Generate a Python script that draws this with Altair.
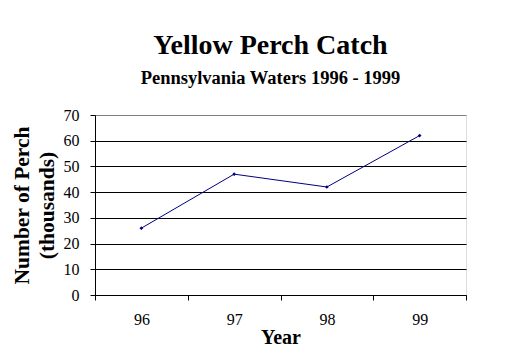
import altair as alt
import pandas as pd

years = ["96", "97", "98", "99"]
catch = [26, 47, 42, 62]
y_ticks = [0, 10, 20, 30, 40, 50, 60, 70]

df = pd.DataFrame({"Year": years, "Catch": catch})

FONT = "Liberation Serif"
NAVY = "#000080"

base = alt.Chart(df).encode(
    x=alt.X(
        "Year:N",
        sort=years,
        scale=alt.Scale(paddingInner=0, paddingOuter=0),
        axis=alt.Axis(
            title="Year",
            labelAngle=0,
            tickBand="extent",
            tickSize=5,
            tickColor="black",
            domainColor="black",
            labelFont=FONT,
            labelFontSize=16,
            labelColor="black",
            labelPadding=11,
            titleFont=FONT,
            titleFontSize=20,
            titleFontWeight="bold",
            titleColor="black",
            titlePadding=0,
            grid=False,
        ),
    ),
    y=alt.Y(
        "Catch:Q",
        scale=alt.Scale(domain=[0, 70], nice=False),
        axis=alt.Axis(
            values=y_ticks,
            title=["Number of Perch", "(thousands)"],
            tickSize=5,
            tickColor="black",
            domainColor="black",
            grid=True,
            gridColor=alt.condition("datum.value == 70", alt.value("#808080"), alt.value("black")),
            gridOpacity=1,
            labelFont=FONT,
            labelFontSize=16,
            labelColor="black",
            labelPadding=11,
            titleFont=FONT,
            titleFontSize=21.5,
            titleFontWeight="bold",
            titleColor="black",
            titlePadding=5,
            titleLineHeight=25,
        ),
    ),
)

line = base.mark_line(color=NAVY, strokeWidth=1)
pts = base.mark_point(shape="diamond", filled=True, color=NAVY, size=14, opacity=1)

chart = (
    (line + pts)
    .properties(
        width=371,
        height=180,
        autosize=alt.AutoSizeParams(type="none"),
        padding={"left": 87, "top": 107, "right": 50, "bottom": 60},
        title=alt.TitleParams(
            text="Yellow Perch Catch",
            subtitle="Pennsylvania Waters 1996 - 1999",
            anchor="middle",
            dx=-10,
            font=FONT,
            fontSize=28,
            fontWeight="bold",
            color="black",
            subtitleFont=FONT,
            subtitleFontSize=18.5,
            subtitleFontWeight="bold",
            subtitleColor="black",
            subtitlePadding=8.5,
            offset=20,
        ),
    )
    .configure_view(stroke="#808080", strokeWidth=1)
    .configure(background="white")
)

chart.save("out.html", embed_options={"renderer": "svg", "actions": False})
